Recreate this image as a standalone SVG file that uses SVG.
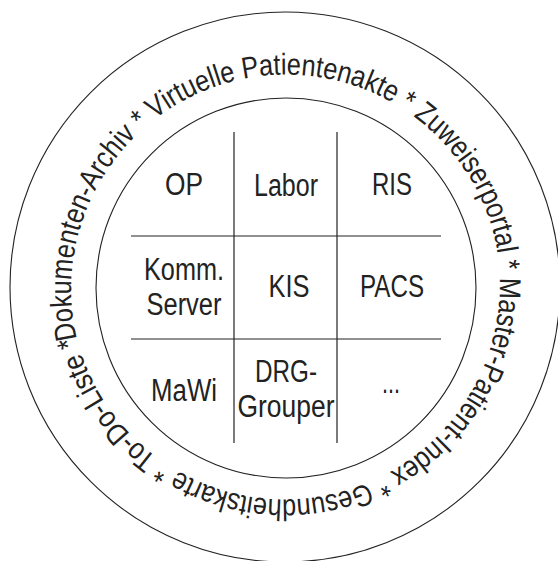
<svg xmlns="http://www.w3.org/2000/svg" width="558" height="561" viewBox="0 0 558 561">
  <style>
    .ring { fill: none; stroke: #222; stroke-width: 1.1; }
    .grid line { stroke: #222; stroke-width: 1.2; }
    .lbl { font-family: "Liberation Sans", Arial, sans-serif; font-size: 31px; fill: #222; text-anchor: middle; }
    .arc { font-family: "Liberation Sans", Arial, sans-serif; font-size: 30px; fill: #222; }
  </style>
  <defs>
    <!-- clockwise baseline circle for the outer ring text, r = 215, starting at 166 deg -->
    <path id="textCircle" d="M 76.9 339 A 215 215 0 0 1 494.1 235 A 215 215 0 0 1 76.9 339"/>
  </defs>
  <rect width="558" height="561" fill="#fff"/>

  <circle class="ring" cx="285" cy="287" r="275"/>
  <circle class="ring" cx="286" cy="288" r="190"/>

  <!-- outer ring: each service placed along the circle, condensed to share the circumference -->
  <g id="dokumenten-archiv">
    <text class="arc"><textPath href="#textCircle" startOffset="0" textLength="239" lengthAdjust="spacingAndGlyphs">Dokumenten-Archiv *</textPath></text>
  </g>
  <g id="virtuelle-patientenakte">
    <text class="arc"><textPath href="#textCircle" startOffset="246.1" textLength="270" lengthAdjust="spacingAndGlyphs">Virtuelle Patientenakte *</textPath></text>
  </g>
  <g id="zuweiserportal">
    <text class="arc"><textPath href="#textCircle" startOffset="523.1" textLength="182.8" lengthAdjust="spacingAndGlyphs">Zuweiserportal *</textPath></text>
  </g>
  <g id="master-patient-index">
    <text class="arc"><textPath href="#textCircle" startOffset="713" textLength="251.7" lengthAdjust="spacingAndGlyphs">Master-Patient-Index *</textPath></text>
  </g>
  <g id="gesundheitskarte">
    <text class="arc"><textPath href="#textCircle" startOffset="971.7" textLength="215.2" lengthAdjust="spacingAndGlyphs">Gesundheitskarte *</textPath></text>
  </g>
  <g id="to-do-liste">
    <text class="arc"><textPath href="#textCircle" startOffset="1193.9" textLength="149" lengthAdjust="spacingAndGlyphs">To-Do-Liste *</textPath></text>
  </g>

  <g id="connectors" class="grid">
    <line x1="234" y1="132" x2="234" y2="443"/>
    <line x1="337" y1="132" x2="337" y2="443"/>
    <line x1="131" y1="236" x2="441" y2="236"/>
    <line x1="131" y1="339" x2="441" y2="339"/>
  </g>

  <!-- cell labels, condensed to their printed widths -->
  <g id="op"><text class="lbl" x="184" y="195" textLength="38" lengthAdjust="spacingAndGlyphs">OP</text></g>
  <g id="labor"><text class="lbl" x="286" y="196" textLength="64" lengthAdjust="spacingAndGlyphs">Labor</text></g>
  <g id="ris"><text class="lbl" x="392" y="195" textLength="40" lengthAdjust="spacingAndGlyphs">RIS</text></g>
  <g id="komm-server">
    <text class="lbl" x="184" y="280" textLength="80" lengthAdjust="spacingAndGlyphs">Komm.</text>
    <text class="lbl" x="184" y="315" textLength="75" lengthAdjust="spacingAndGlyphs">Server</text>
  </g>
  <g id="kis"><text class="lbl" x="289" y="297" textLength="41" lengthAdjust="spacingAndGlyphs">KIS</text></g>
  <g id="pacs"><text class="lbl" x="392" y="297" textLength="64" lengthAdjust="spacingAndGlyphs">PACS</text></g>
  <g id="mawi"><text class="lbl" x="184" y="401" textLength="66" lengthAdjust="spacingAndGlyphs">MaWi</text></g>
  <g id="drg-grouper">
    <text class="lbl" x="286" y="382" textLength="62" lengthAdjust="spacingAndGlyphs">DRG-</text>
    <text class="lbl" x="286" y="417" textLength="97" lengthAdjust="spacingAndGlyphs">Grouper</text>
  </g>
  <g id="more"><text class="lbl" x="391" y="393" textLength="18" lengthAdjust="spacingAndGlyphs">...</text></g>
</svg>
